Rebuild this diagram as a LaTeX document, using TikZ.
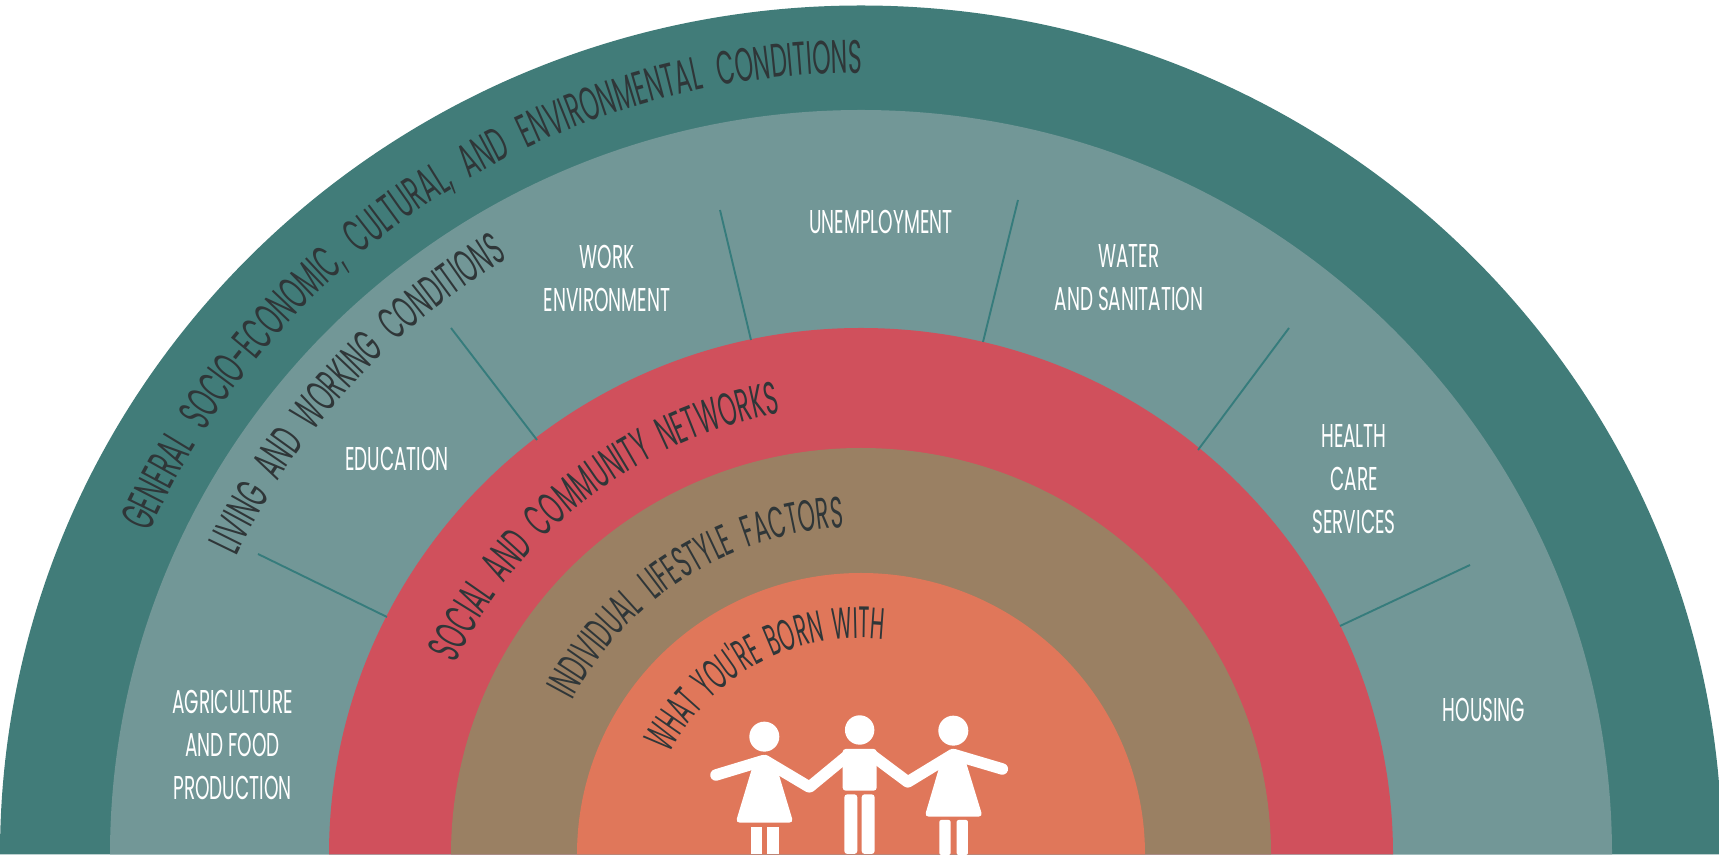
\documentclass[tikz,border=0pt]{standalone}
\usepackage{fontspec}
\usetikzlibrary{decorations.text}
\newfontfamily\arcf[FakeStretch=0.5]{Poppins}
\newfontfamily\arcg[FakeStretch=0.465]{Poppins}
\newfontfamily\labf[FakeStretch=0.56]{Poppins}
\definecolor{tealA}{HTML}{417C79}
\definecolor{tealB}{HTML}{729797}
\definecolor{redC}{HTML}{D0505C}
\definecolor{brownD}{HTML}{9A8063}
\definecolor{orangeE}{HTML}{E0775A}
\definecolor{darkT}{HTML}{2F3638}
\definecolor{divT}{HTML}{367C7C}
\tikzset{
  x=1pt,y=1pt,
  lab/.style={text=white,font=\labf\fontsize{33}{43}\selectfont,align=center,inner sep=0pt},
  divider/.style={draw=divT,line width=1.9pt},
  person/.style={fill=white,draw=none},
  limb/.style={draw=white,line width=11.5pt,line cap=round},
}
\newcommand{\band}[4]{\fill[#4] (861-#1,1.5) arc[start angle=180,end angle=0,x radius=#1pt,y radius=#2pt] -- cycle;}
\newcommand{\arctext}[6][\arcf]{\path[decorate,decoration={text along path,text align={fit to path stretching spaces},text={|#1\fontsize{#6}{#6}\selectfont\color{darkT}|#5}}] (861,2) ++(#3:#2pt) arc[start angle=#3,end angle=#4,radius=#2pt];}
\begin{document}
\begin{tikzpicture}
\useasboundingbox (0,0) rectangle (1719,856);
\band{861}{849}{}{tealA}
\band{751}{744.5}{}{tealB}
\band{532}{526.5}{}{redC}
\band{410}{406.5}{}{brownD}
\band{284}{281.5}{}{orangeE}
% dividers
\coordinate (d1a) at (258,302); \coordinate (d1b) at (387,239);
\coordinate (d2a) at (451,528); \coordinate (d2b) at (537,416);
\coordinate (d3a) at (720,646); \coordinate (d3b) at (751,516);
\coordinate (d4a) at (1018,656); \coordinate (d4b) at (983,514);
\coordinate (d5a) at (1289,528); \coordinate (d5b) at (1198,406);
\coordinate (d6a) at (1470,291); \coordinate (d6b) at (1340,230);
\foreach \i in {1,...,6} \draw[divider] (d\i a) -- (d\i b);
% labels
\node[lab] (agri) at (232.5,111) {AGRICULTURE\\AND FOOD\\PRODUCTION};
\node[lab] (edu) at (397,397) {EDUCATION};
\node[lab] (work) at (607,578) {WORK\\ENVIRONMENT};
\node[lab] (unemp) at (881,634) {UNEMPLOYMENT};
\node[lab] (water) at (1129,578) {WATER\\AND SANITATION};
\node[lab] (health) at (1354,377) {HEALTH\\CARE\\SERVICES};
\node[lab] (housing) at (1484,146) {HOUSING};
% arc titles
\arctext{781}{155.7}{90}{GENERAL SOCIO-ECONOMIC, CULTURAL, AND ENVIRONMENTAL CONDITIONS}{47}
\arctext{692}{154.5}{120.7}{LIVING AND WORKING CONDITIONS}{46}
\arctext{448}{154.8}{100.3}{SOCIAL AND COMMUNITY NETWORKS}{46}
\arctext{327}{152}{93}{INDIVIDUAL LIFESTYLE FACTORS}{44}
\arctext[\arcg]{216}{152.4}{84}{WHAT YOU'RE BORN WITH}{44}
% children
\begin{scope}[shift={(680,176)},x=0.3333pt,y=-0.3333pt]
  \fill[person] (253,170) circle[radius=15pt];
  \fill[person] (539,150) circle[radius=14.7pt];
  \fill[person] (820,152) circle[radius=15pt];
  % girl 1
  \draw[limb] (108,285) -- (250,242);
  \draw[limb] (255,242) -- (386,320);
  \fill[person,rounded corners=4pt] (253,222) -- (285,245) -- (340,428) -- (167,428) -- (222,245) -- cycle;
  \fill[person] (212,440) rectangle (246,523);
  \fill[person] (262,440) rectangle (297,523);
  % boy
  \draw[limb] (390,320) -- (505,225);
  \draw[limb] (575,225) -- (682,305);
  \fill[person,rounded corners=3pt] (488,207) rectangle (590,332);
  \fill[person,rounded corners=3pt] (493,343) rectangle (532,522);
  \fill[person,rounded corners=3pt] (545,343) rectangle (584,522);
  % girl 2
  \draw[limb] (685,305) -- (818,224);
  \draw[limb] (822,224) -- (967,267);
  \fill[person,rounded corners=4pt] (820,204) -- (852,227) -- (908,410) -- (734,410) -- (788,227) -- cycle;
  \fill[person,rounded corners=2pt] (778,420) rectangle (812,525);
  \fill[person,rounded corners=2pt] (830,420) rectangle (864,525);
\end{scope}
\end{tikzpicture}
\end{document}
